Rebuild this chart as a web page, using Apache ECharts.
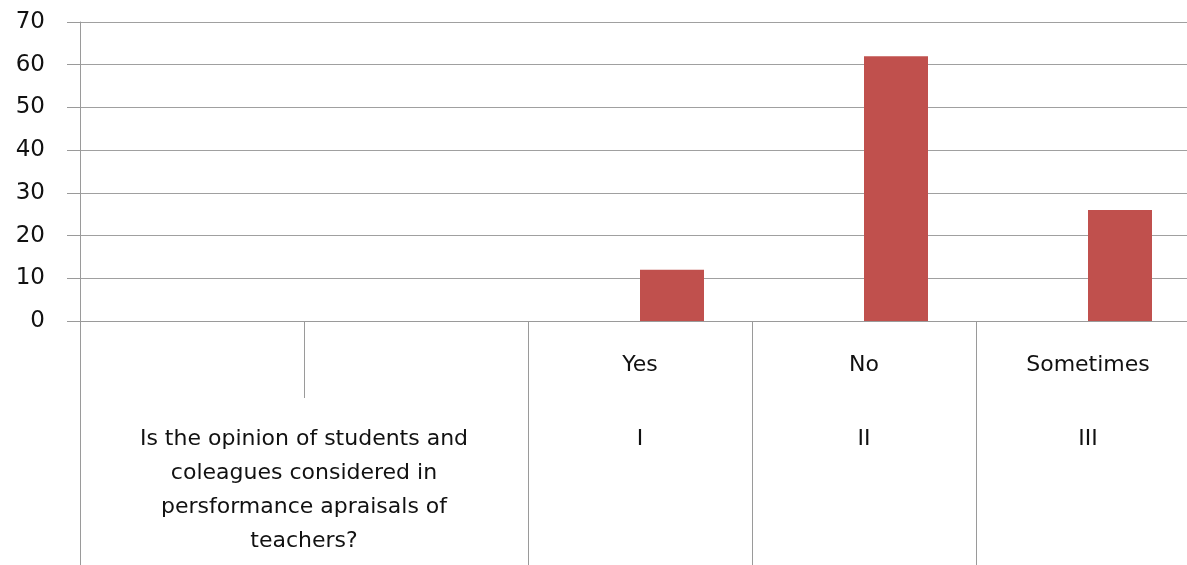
<!DOCTYPE html>
<html>
<head>
<meta charset="utf-8">
<script src="https://cdn.jsdelivr.net/npm/echarts@6/dist/echarts.min.js"></script>
<style>
html,body{margin:0;padding:0;background:#fff;}
#chart{width:1187px;height:565px;}
</style>
</head>
<body>
<div id="chart"></div>
<script>
// Inner category level (answers)
var answerLabels = ['', '', 'Yes', 'No', 'Sometimes'];
// Outer category level (question / roman numerals)
var outerLabels = ['Is the opinion of students and\ncoleagues considered in\npersformance apraisals of\nteachers?', '', 'I', 'II', 'III'];
// Series values
var seriesEmpty = [null, null, null, null, null];
var seriesPercent = [null, null, 12, 62, 26];
// Y-axis ticks
var yMin = 0, yMax = 70, yStep = 10;

var FONT = 'DejaVu Sans';
var chart = echarts.init(document.getElementById('chart'));
var outerData = outerLabels.map(function (v, i) {
  if (i === 0) {
    return { value: v, textStyle: { padding: [0, 0, 0, 224] } };
  }
  return v;
});

chart.setOption({
  animation: false,
  grid: { left: 80, top: 22, width: 1120, bottom: 244, containLabel: false, outerBoundsMode: 'none' },
  xAxis: [
    {
      type: 'category',
      position: 'bottom',
      data: answerLabels,
      axisLine: { show: true, lineStyle: { color: '#9a9a9a', width: 1 } },
      axisTick: { show: true, length: 77, interval: 0, lineStyle: { color: '#9a9a9a' } },
      axisLabel: { interval: 0, margin: 27, fontFamily: FONT, fontSize: 22, color: '#111', lineHeight: 34 },
      splitLine: { show: false }
    },
    {
      type: 'category',
      position: 'bottom',
      data: outerData,
      axisLine: { show: false },
      axisTick: {
        show: true, length: 244,
        interval: function (idx) { return idx !== 1; },
        lineStyle: { color: '#9a9a9a' }
      },
      axisLabel: { interval: 0, margin: 101, fontFamily: FONT, fontSize: 22, color: '#111', lineHeight: 34, align: 'center' },
      splitLine: { show: false }
    }
  ],
  yAxis: {
    type: 'value',
    min: yMin, max: yMax, interval: yStep,
    axisLine: { show: true, lineStyle: { color: '#9a9a9a' } },
    axisTick: { show: true, length: 13, lineStyle: { color: '#9a9a9a' } },
    axisLabel: { margin: 35, fontFamily: FONT, fontSize: 23, color: '#111' },
    splitLine: { show: true, lineStyle: { color: '#a0a0a0', width: 1 } }
  },
  series: [
    {
      name: 'Series1', type: 'bar', xAxisIndex: 0, data: seriesEmpty,
      barGap: '0%', barCategoryGap: '42.86%', itemStyle: { color: '#4f81bd' }
    },
    {
      name: 'Series2', type: 'bar', xAxisIndex: 0, data: seriesPercent,
      barGap: '0%', barCategoryGap: '42.86%', itemStyle: { color: '#c0504d' }
    }
  ]
});
</script>
</body>
</html>
